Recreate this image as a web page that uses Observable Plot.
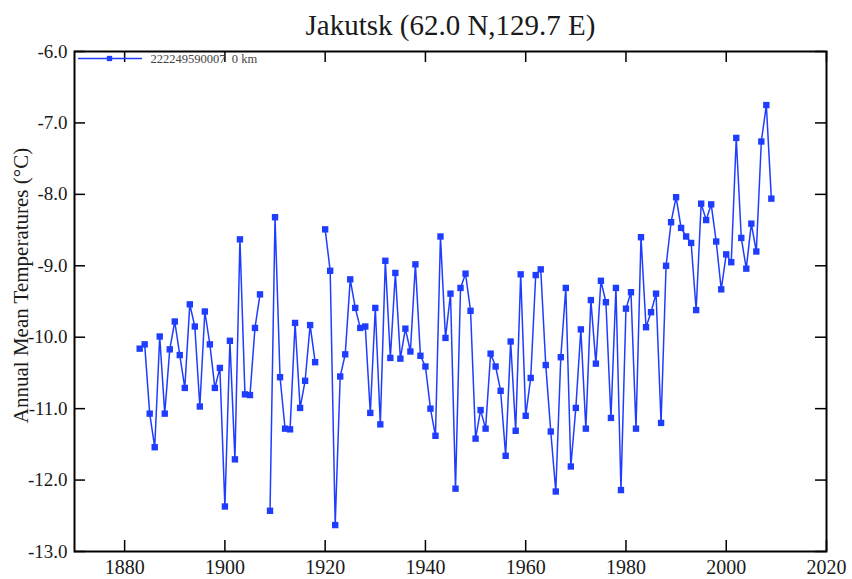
<!DOCTYPE html>
<html>
<head>
<meta charset="utf-8">
<script src="https://cdn.jsdelivr.net/npm/d3@7"></script>
<script src="https://cdn.jsdelivr.net/npm/@observablehq/plot@0.6"></script>
<style>
  html, body { margin: 0; padding: 0; background: #ffffff; }
  #chart svg { display: block; }
</style>
</head>
<body>
<div id="chart"></div>
<script>
const title = "Jakutsk (62.0 N,129.7 E)";
const yLabel = "Annual Mean Temperatures (°C)";
const seriesName = "222249590007  0 km";

const years = [
  1883,1884,1885,1886,1887,1888,1889,1890,1891,1892,1893,1894,1895,1896,1897,1898,1899,
  1900,1901,1902,1903,1904,1905,1906,1907,1908,1909,1910,1911,1912,1913,1914,1915,1916,1917,1918,1919,
  1920,1921,1922,1923,1924,1925,1926,1927,1928,1929,1930,1931,1932,1933,1934,1935,1936,1937,1938,1939,
  1940,1941,1942,1943,1944,1945,1946,1947,1948,1949,1950,1951,1952,1953,1954,1955,1956,1957,1958,1959,
  1960,1961,1962,1963,1964,1965,1966,1967,1968,1969,1970,1971,1972,1973,1974,1975,1976,1977,1978,1979,
  1980,1981,1982,1983,1984,1985,1986,1987,1988,1989,1990,1991,1992,1993,1994,1995,1996,1997,1998,1999,
  2000,2001,2002,2003,2004,2005,2006,2007,2008,2009
];

// null = missing year (line gap)
const temps = [
  -10.16,-10.10,-11.07,-11.54,-9.99,-11.07,-10.17,-9.78,-10.25,-10.71,-9.54,-9.85,-10.97,-9.64,-10.10,-10.71,-10.43,
  -12.37,-10.05,-11.71,-8.63,-10.80,-10.81,-9.87,-9.40,null,-12.43,-8.32,-10.56,-11.28,-11.29,-9.80,-10.99,-10.61,-9.83,-10.35,null,
  -8.49,-9.07,-12.63,-10.55,-10.24,-9.19,-9.59,-9.87,-9.85,-11.06,-9.59,-11.22,-8.93,-10.29,-9.10,-10.30,-9.88,-10.20,-8.98,-10.26,
  -10.41,-11.00,-11.38,-8.59,-10.01,-9.39,-12.12,-9.31,-9.11,-9.63,-11.42,-11.02,-11.28,-10.23,-10.41,-10.75,-11.66,-10.06,-11.31,-9.12,
  -11.10,-10.57,-9.13,-9.05,-10.39,-11.32,-12.16,-10.28,-9.31,-11.81,-10.99,-9.89,-11.28,-9.48,-10.37,-9.21,-9.51,-11.13,-9.31,-12.14,
  -9.60,-9.37,-11.28,-8.60,-9.86,-9.65,-9.39,-11.20,-9.00,-8.39,-8.04,-8.47,-8.59,-8.68,-9.62,-8.13,-8.36,-8.14,-8.66,-9.33,
  -8.84,-8.95,-7.21,-8.61,-9.04,-8.41,-8.80,-7.26,-6.75,-8.06
];

const xDomain = [1870, 2020];
const yDomain = [-13, -6];
const xTicks = [1880, 1900, 1920, 1940, 1960, 1980, 2000, 2020];
const yTicks = [-13, -12, -11, -10, -9, -8, -7, -6];

const W = 852, H = 579;
const mL = 74, mR = 26, mT = 51, mB = 28;
const plotW = W - mL - mR, plotH = H - mT - mB;
const tickLen = 11;
const blue = "#1f3dff";

const table = years.map((y, i) => ({year: y, temp: temps[i] == null ? NaN : temps[i]}));
const present = table.filter(d => !Number.isNaN(d.temp));

const chart = Plot.plot({
  width: W,
  height: H,
  marginLeft: mL,
  marginRight: mR,
  marginTop: mT,
  marginBottom: mB,
  style: {fontFamily: "'Liberation Serif', 'Times New Roman', serif", background: "#ffffff", color: "#1a1a1a"},
  x: {domain: xDomain, label: null},
  y: {domain: yDomain, label: null},
  marks: [
    // data
    Plot.line(table, {x: "year", y: "temp", stroke: blue, strokeWidth: 1.5}),
    Plot.dot(present, {x: "year", y: "temp", symbol: "square", r: 3.6, fill: blue, stroke: "none"}),
    // inward ticks
    Plot.ruleX(xTicks, {insetTop: plotH - tickLen, stroke: "#000", strokeWidth: 1.5}),
    Plot.ruleX(xTicks, {insetBottom: plotH - tickLen, stroke: "#000", strokeWidth: 1.5}),
    Plot.ruleY(yTicks, {insetRight: plotW - tickLen, stroke: "#000", strokeWidth: 1.5}),
    Plot.ruleY(yTicks, {insetLeft: plotW - tickLen, stroke: "#000", strokeWidth: 1.5}),
    // tick labels
    Plot.axisX(xTicks, {anchor: "bottom", tickSize: 0, tickPadding: 8, tickFormat: d => String(d), fontSize: 20, label: null}),
    Plot.axisY(yTicks, {anchor: "left", tickSize: 0, tickPadding: 7, tickFormat: d => d.toFixed(1), fontSize: 19, label: null}),
    Plot.frame({stroke: "#000", strokeWidth: 2}),
    // title & y label
    Plot.text([title], {frameAnchor: "top", dy: -26, lineAnchor: "middle", fontSize: 29, fill: "#1a1a1a"}),
    Plot.text([yLabel], {frameAnchor: "left", dx: -53, dy: -16, rotate: -90, textAnchor: "middle", lineAnchor: "middle", fontSize: 21, fill: "#1a1a1a"}),
    // legend
    Plot.ruleY([yDomain[1]], {insetLeft: 4, insetRight: plotW - 68, dy: 7, stroke: blue, strokeWidth: 1.5}),
    Plot.dot([seriesName], {frameAnchor: "top-left", dx: 35, dy: 7, symbol: "square", r: 3, fill: blue, stroke: "none"}),
    Plot.text([seriesName], {frameAnchor: "top-left", dx: 76, dy: 7, textAnchor: "start", lineAnchor: "middle", fontSize: 12.5, fill: "#444"})
  ]
});

document.getElementById("chart").appendChild(chart);
</script>
</body>
</html>
